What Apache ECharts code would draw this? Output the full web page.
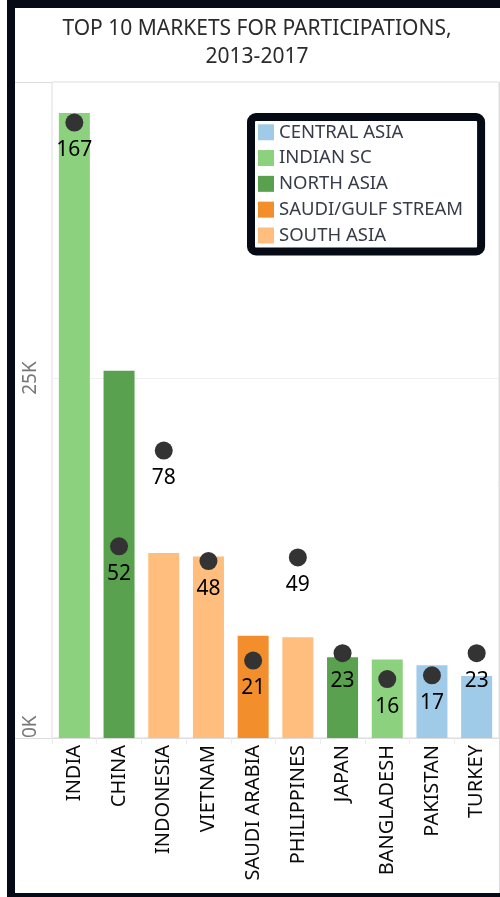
<!DOCTYPE html>
<html>
<head>
<meta charset="utf-8">
<script src="https://cdn.jsdelivr.net/npm/echarts@6/dist/echarts.min.js"></script>
<style>
html,body{margin:0;padding:0;background:#fff;}
#chart{width:500px;height:897px;}
</style>
</head>
<body>
<div id="chart"></div>
<script>
const categories = ['INDIA','CHINA','INDONESIA','VIETNAM','SAUDI ARABIA','PHILIPPINES','JAPAN','BANGLADESH','PAKISTAN','TURKEY'];
const marketRegions = ['INDIAN SC','NORTH ASIA','SOUTH ASIA','SOUTH ASIA','SAUDI/GULF STREAM','SOUTH ASIA','NORTH ASIA','INDIAN SC','CENTRAL ASIA','CENTRAL ASIA'];
const participations = [43400, 25500, 12850, 12600, 7100, 7000, 5600, 5450, 5050, 4300];
const dotValues = [167, 52, 78, 48, 21, 49, 23, 16, 17, 23];
const legendRegions = ['CENTRAL ASIA','INDIAN SC','NORTH ASIA','SAUDI/GULF STREAM','SOUTH ASIA'];
const regionColors = ['#A0CBE8','#8CD17D','#59A14F','#F28E2B','#FFBE7D'];
const yTickValues = [0, 25000];

const FONT = '"Noto Sans", "Open Sans", sans-serif';
const chart = echarts.init(document.getElementById('chart'), null, {renderer:'canvas'});

const barSeries = legendRegions.map((r, k) => ({
  name: r,
  type: 'bar',
  stack: 'total',
  barWidth: 31,
  itemStyle: { color: regionColors[k] },
  data: participations.map((v, i) => marketRegions[i] === r ? v : '-'),
  z: 2
}));

const option = {
  animation: false,
  title: {
    text: 'TOP 10 MARKETS FOR PARTICIPATIONS,\n2013-2017',
    left: 257,
    textAlign: 'center',
    top: 15,
    padding: 0,
    textStyle: { fontFamily: FONT, fontSize: 21, fontWeight: 'normal', color: '#2b2b2b', lineHeight: 28 }
  },
  legend: {
    data: legendRegions,
    orient: 'vertical',
    left: 251,
    top: 117,
    padding: [5.75, 18, 6.5, 7],
    itemWidth: 16,
    itemHeight: 16,
    itemGap: 6.8,
    icon: 'rect',
    borderColor: '#050a14',
    borderWidth: 8,
    borderRadius: 5,
    backgroundColor: '#fff',
    selectedMode: false,
    textStyle: { fontFamily: FONT, fontSize: 18.5, color: '#363c48' },
    itemStyle: { borderWidth: 0 }
  },
  grid: {
    left: 52, right: 1, top: 82, bottom: 159,
    show: true, borderColor: '#dcdcdc', borderWidth: 1,
    containLabel: false
  },
  xAxis: {
    type: 'category',
    data: categories,
    axisLine: { show: true, lineStyle: { color: '#dcdcdc' } },
    axisTick: { show: true, length: 6, lineStyle: { color: '#ececec' } },
    axisLabel: { rotate: 90, margin: 7, fontFamily: FONT, fontSize: 20, color: '#0a0a0a', interval: 0 }
  },
  yAxis: [{
    type: 'value',
    min: 0,
    max: 45556,
    interval: 25000,
    axisLine: { show: false },
    axisTick: { show: false },
    splitLine: { show: true, lineStyle: { color: '#efefef' } },
    axisLabel: {
      rotate: 90, margin: 12, fontFamily: FONT, fontSize: 19, color: '#777',
      alignMinLabel: 'left',
      formatter: v => yTickValues.indexOf(v) >= 0 ? (v / 1000) + 'K' : ''
    }
  }, {
    type: 'value',
    min: 0,
    max: 178,
    show: false,
    splitLine: { show: false }
  }],
  series: barSeries.concat([{
    name: 'dots',
    type: 'scatter',
    yAxisIndex: 1,
    symbol: 'circle',
    symbolSize: 18,
    itemStyle: { color: '#333', opacity: 1 },
    z: 5,
    label: {
      show: true, position: 'bottom', distance: 8,
      fontFamily: FONT, fontSize: 21, color: '#000'
    },
    data: dotValues
  }]),
  graphic: [
    { type: 'rect', shape: { x: 7, y: 0, width: 8, height: 897 }, style: { fill: '#050a14' }, z: 10 },
    { type: 'rect', shape: { x: 7, y: 0, width: 493, height: 8 }, style: { fill: '#050a14' }, z: 10 },
    { type: 'rect', shape: { x: 7, y: 893, width: 493, height: 4 }, style: { fill: '#050a14' }, z: 10 },
    { type: 'line', shape: { x1: 15, y1: 82.5, x2: 52, y2: 82.5 }, style: { stroke: '#dcdcdc', lineWidth: 1 }, z: 1 },
    { type: 'line', shape: { x1: 15, y1: 738.5, x2: 52, y2: 738.5 }, style: { stroke: '#dcdcdc', lineWidth: 1 }, z: 1 },
    { type: 'line', shape: { x1: 499.5, y1: 82, x2: 499.5, y2: 893 }, style: { stroke: '#dcdcdc', lineWidth: 1 }, z: 1 }
  ]
};
chart.setOption(option);
</script>
</body>
</html>
